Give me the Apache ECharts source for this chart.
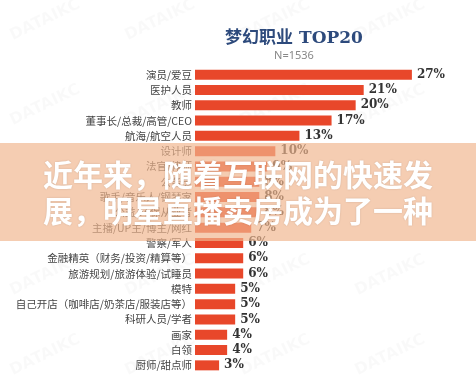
<!DOCTYPE html>
<html><head><meta charset="utf-8">
<script src="https://cdn.jsdelivr.net/npm/echarts@6/dist/echarts.min.js"></script>
<style>html,body{margin:0;padding:0;background:#fff}#c{width:476px;height:384px}</style>
</head><body><div id="c"></div>
<script>
const categories = ["演员/爱豆","医护人员","教师","董事长/总裁/高管/CEO","航海/航空人员","设计师","法官/律师","公务员","歌手/音乐人/钢琴家","公益/环保从业者","主播/UP主/博主/网红","警察/军人","金融精英（财务/投资/精算等）","旅游规划/旅游体验/试睡员","模特","自己开店（咖啡店/奶茶店/服装店等）","科研人员/学者","画家","白领","厨师/甜点师"];
const values = [27,21,20,17,13,10,9,8,8,8,7,6,6,6,5,5,5,4,4,3];
const titleText = "梦幻职业 TOP20";
const subText = "N=1536";
const overlayLines = ["近年来，随着互联网的快速发","展，明星直播卖房成为了一种"];
const watermark = "DATAIKC";

const graphics = [];
const wmX = [45,160,275,390], wmY = [20,105,275,355];
wmY.forEach(y => wmX.forEach(x => graphics.push({type:'text', x:x, y:y, rotation:Math.PI/7, z:0,
  style:{text:watermark, fill:'rgba(0,0,0,0.022)', font:'bold 16px "DejaVu Sans"', textAlign:'center', textVerticalAlign:'middle'}})));
graphics.push(
  {type:'rect', shape:{x:0,y:143,width:476,height:98}, style:{fill:'rgba(240,181,141,0.68)'}, z:100},
  {type:'text', x:43, y:175, style:{text:overlayLines[0], fill:'#fff', font:'bold 30px "Noto Sans CJK SC"', textVerticalAlign:'middle', textShadowColor:'rgba(0,0,0,0.15)', textShadowBlur:2}, z:101},
  {type:'text', x:43, y:211, style:{text:overlayLines[1], fill:'#fff', font:'bold 30px "Noto Sans CJK SC"', textVerticalAlign:'middle', textShadowColor:'rgba(0,0,0,0.15)', textShadowBlur:2}, z:101}
);

const chart = echarts.init(document.getElementById('c'), null, {renderer:'canvas'});
chart.setOption({
  backgroundColor:'#ffffff',
  animation:false,
  title:{
    text:titleText, subtext:subText, left:289, textAlign:'center', top:25, itemGap:3,
    textStyle:{fontFamily:'DejaVu Serif, Noto Sans CJK SC', fontWeight:'bold', fontSize:17, color:'#2d4a7c'},
    subtextStyle:{fontFamily:'Noto Sans', fontSize:11, color:'#888'}
  },
  grid:{left:195, right:40, top:67, bottom:11, containLabel:false},
  xAxis:{type:'value', min:0, max:30, show:false},
  yAxis:{type:'category', data:categories, inverse:true,
    axisLine:{show:false}, axisTick:{show:false},
    axisLabel:{margin:3, fontFamily:'Noto Sans CJK SC', fontSize:10.5, color:'#444'}},
  series:[{type:'bar', data:values, barWidth:10,
    itemStyle:{color:'#e8472a'},
    label:{show:true, position:'right', distance:5, formatter:'{c}%',
      fontFamily:'DejaVu Serif', fontWeight:'bold', fontSize:12, color:'#333'}}],
  graphic:graphics
});
</script></body></html>
